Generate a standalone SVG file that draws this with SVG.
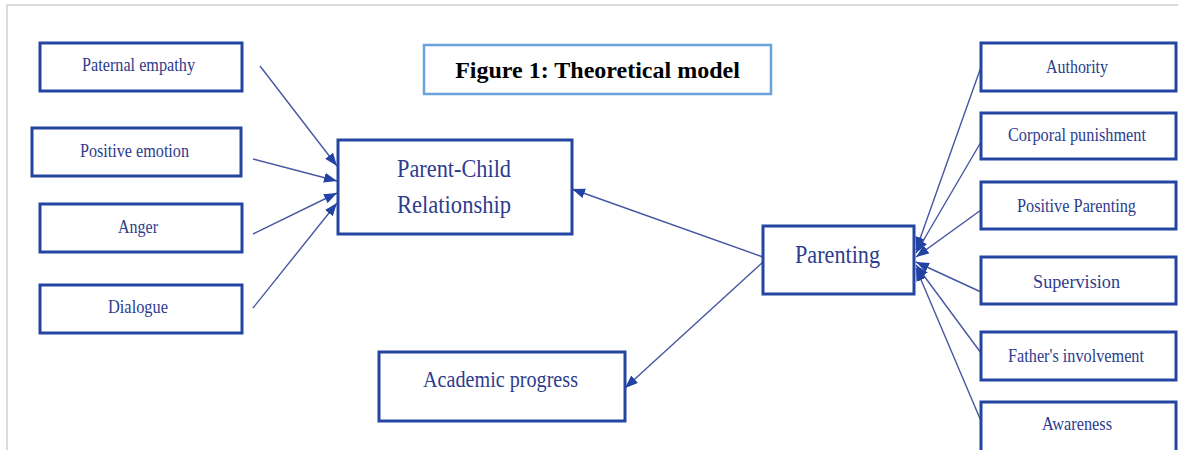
<svg xmlns="http://www.w3.org/2000/svg" width="1178" height="450" viewBox="0 0 1178 450">
<style>
.box{fill:#fff;stroke:#2445a2;stroke-width:3}
.lbl{font-family:"Liberation Serif","Times New Roman",serif;fill:#2d3c8e;text-anchor:middle}
.s{font-size:18px}
.b{font-size:25px}
.con{stroke:#4656a0;stroke-width:1.4;fill:none;marker-end:url(#ah)}
</style>
<defs>
<marker id="ah" markerUnits="userSpaceOnUse" markerWidth="14" markerHeight="10" refX="13" refY="5" orient="auto">
<path d="M0,0 L13,5 L0,10 Z" fill="#2242a4"/>
</marker>
</defs>
<rect width="1178" height="450" fill="#fff"/>
<path d="M7,450 V5 H1178" fill="none" stroke="#d0d0d0" stroke-width="1.5"/>
<g id="title">
<rect x="424" y="45" width="347" height="49" fill="#fff" stroke="#6aa3dc" stroke-width="2.5"/>
<text x="597.5" y="78" font-family="Liberation Serif,'Times New Roman',serif" font-size="24" font-weight="bold" fill="#000" text-anchor="middle">Figure 1: Theoretical model</text>
</g>
<g id="connectors">
<line class="con" x1="260" y1="66" x2="337" y2="166"/>
<line class="con" x1="253" y1="159" x2="337" y2="181"/>
<line class="con" x1="253" y1="234" x2="337" y2="193"/>
<line class="con" x1="253" y1="308" x2="337" y2="203"/>
<line class="con" x1="763" y1="257" x2="572" y2="189"/>
<line class="con" x1="763" y1="262" x2="625" y2="388"/>
<line class="con" x1="981" y1="67" x2="916" y2="250"/>
<line class="con" x1="981" y1="142" x2="916" y2="253"/>
<line class="con" x1="981" y1="210" x2="916" y2="257"/>
<line class="con" x1="981" y1="292" x2="916" y2="262"/>
<line class="con" x1="981" y1="353" x2="916" y2="265"/>
<line class="con" x1="981" y1="421" x2="916" y2="268"/>
</g>
<g id="paternal-empathy"><rect class="box" x="40" y="43" width="202" height="48"/><text class="lbl s" x="138.5" y="71" textLength="113" lengthAdjust="spacingAndGlyphs">Paternal empathy</text></g>
<g id="positive-emotion"><rect class="box" x="32" y="128" width="209" height="48"/><text class="lbl s" x="134.5" y="157" textLength="109" lengthAdjust="spacingAndGlyphs">Positive emotion</text></g>
<g id="anger"><rect class="box" x="40" y="204" width="202" height="48"/><text class="lbl s" x="138" y="233" textLength="40" lengthAdjust="spacingAndGlyphs">Anger</text></g>
<g id="dialogue"><rect class="box" x="40" y="285" width="202" height="48"/><text class="lbl s" x="138" y="313" textLength="60" lengthAdjust="spacingAndGlyphs">Dialogue</text></g>
<g id="parent-child"><rect class="box" x="338" y="140" width="234" height="94"/><text class="lbl b" x="454" y="177" textLength="114" lengthAdjust="spacingAndGlyphs">Parent-Child</text><text class="lbl b" x="454" y="213" textLength="114" lengthAdjust="spacingAndGlyphs">Relationship</text></g>
<g id="academic-progress"><rect class="box" x="379" y="352" width="246" height="69"/><text class="lbl" style="font-size:23px" x="500.5" y="387" textLength="155" lengthAdjust="spacingAndGlyphs">Academic progress</text></g>
<g id="parenting"><rect class="box" x="763" y="226" width="151" height="68"/><text class="lbl b" x="837.5" y="263" textLength="85" lengthAdjust="spacingAndGlyphs">Parenting</text></g>
<g id="authority"><rect class="box" x="981" y="43" width="195" height="48"/><text class="lbl s" x="1077" y="73" textLength="62" lengthAdjust="spacingAndGlyphs">Authority</text></g>
<g id="corporal-punishment"><rect class="box" x="981" y="113" width="195" height="46"/><text class="lbl s" x="1077" y="141" textLength="138" lengthAdjust="spacingAndGlyphs">Corporal punishment</text></g>
<g id="positive-parenting"><rect class="box" x="981" y="182" width="195" height="47"/><text class="lbl s" x="1076.5" y="212" textLength="119" lengthAdjust="spacingAndGlyphs">Positive Parenting</text></g>
<g id="supervision"><rect class="box" x="981" y="257" width="195" height="47"/><text class="lbl s" x="1076.5" y="288" textLength="87" lengthAdjust="spacingAndGlyphs">Supervision</text></g>
<g id="fathers-involvement"><rect class="box" x="981" y="332" width="195" height="48"/><text class="lbl s" x="1076" y="362" textLength="136" lengthAdjust="spacingAndGlyphs">Father's involvement</text></g>
<g id="awareness"><rect class="box" x="981" y="402" width="195" height="52"/><text class="lbl s" x="1077" y="430" textLength="70" lengthAdjust="spacingAndGlyphs">Awareness</text></g>
</svg>
